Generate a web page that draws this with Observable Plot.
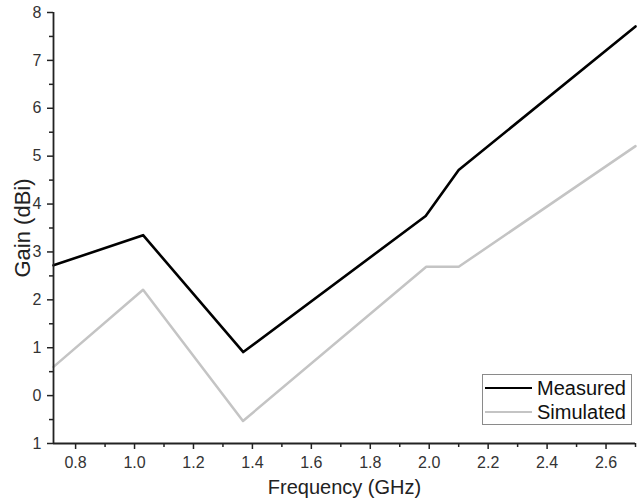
<!DOCTYPE html>
<html>
<head>
<meta charset="utf-8">
<script src="https://cdn.jsdelivr.net/npm/d3@7"></script>
<script src="https://cdn.jsdelivr.net/npm/@observablehq/plot@0.6"></script>
<style>
  html, body { margin: 0; padding: 0; background: #fff; }
  #wrap { position: relative; width: 642px; height: 499px; font-family: "Liberation Sans", Arial, sans-serif; }
  #legend { position: absolute; left: 482px; top: 374px; width: 150px; height: 51px; border: 1px solid #8a8a8a; background: #fff; box-sizing: border-box; }
  .row { position: absolute; left: 0; height: 24px; display: flex; align-items: center; font-size: 20px; color: #111; }
  .swatch { width: 47px; height: 0; margin-left: 2px; margin-right: 5px; }
</style>
</head>
<body>
<div id="wrap"></div>
<script>
const freqMeasured = [0.725, 1.029, 1.369, 1.988, 2.10, 2.70];
const gainMeasured = [2.72, 3.35, 0.91, 3.75, 4.71, 7.71];
const freqSimulated = [0.725, 1.029, 1.368, 1.99, 2.10, 2.70];
const gainSimulated = [0.60, 2.21, -0.53, 2.69, 2.69, 5.21];
const seriesNames = ["Measured", "Simulated"];
const seriesColors = ["#000000", "#c4c4c4"];
const xDomain = [0.725, 2.70];
const yDomain = [-1, 8];
const xMajorTicks = [0.8, 1.0, 1.2, 1.4, 1.6, 1.8, 2.0, 2.2, 2.4, 2.6];
const xMinorTicks = [0.9, 1.1, 1.3, 1.5, 1.7, 1.9, 2.1, 2.3, 2.5, 2.7];
const yMajorTicks = [-1, 0, 1, 2, 3, 4, 5, 6, 7, 8];
const yMinorTicks = [-0.5, 0.5, 1.5, 2.5, 3.5, 4.5, 5.5, 6.5, 7.5];

const measured = freqMeasured.map((f, i) => ({f, g: gainMeasured[i]}));
const simulated = freqSimulated.map((f, i) => ({f, g: gainSimulated[i]}));

const axisColor = "#222";
const chart = Plot.plot({
  width: 642,
  height: 499,
  marginLeft: 53,
  marginRight: 7,
  marginTop: 12,
  marginBottom: 56,
  style: { fontFamily: "'Liberation Sans', Arial, sans-serif", fontSize: "16px", color: "#333", background: "#fff" },
  x: { domain: xDomain },
  y: { domain: yDomain },
  marks: [
    Plot.line(simulated, {x: "f", y: "g", stroke: seriesColors[1], strokeWidth: 2.5}),
    Plot.line(measured, {x: "f", y: "g", stroke: seriesColors[0], strokeWidth: 2.6}),
    Plot.axisX({ticks: xMajorTicks, tickSize: 6, tickPadding: 7, fontSize: 16, tickFormat: d3.format(".1f"), stroke: axisColor, strokeWidth: 1.5, fill: "#333", label: null}),
    Plot.axisX({ticks: xMinorTicks, tickSize: 4, tickFormat: () => "", stroke: axisColor, strokeWidth: 1.5, label: null}),
    Plot.axisY({ticks: yMajorTicks, tickSize: 6, tickPadding: 6, fontSize: 16, tickFormat: d => String(Math.abs(d)), stroke: axisColor, strokeWidth: 1.5, fill: "#333", label: null}),
    Plot.axisY({ticks: yMinorTicks, tickSize: 4, tickFormat: () => "", stroke: axisColor, strokeWidth: 1.5, label: null}),
    Plot.ruleX([xDomain[0]], {stroke: axisColor, strokeWidth: 1.8}),
    Plot.ruleY([yDomain[0]], {stroke: axisColor, strokeWidth: 1.8}),
    Plot.text(["Frequency (GHz)"], {frameAnchor: "bottom", dy: 50, fontSize: 20, fill: "#222"}),
    Plot.text(["Gain (dBi)"], {frameAnchor: "left", textAnchor: "middle", lineAnchor: "middle", dx: -31, rotate: -90, fontSize: 22, fill: "#222"})
  ]
});

const wrap = document.getElementById("wrap");
wrap.appendChild(chart);
const legend = document.createElement("div");
legend.id = "legend";
seriesNames.forEach((name, i) => {
  const row = document.createElement("div");
  row.className = "row";
  row.style.top = (1 + i * 24) + "px";
  const sw = document.createElement("span");
  sw.className = "swatch";
  sw.style.borderTop = "2.5px solid " + seriesColors[i];
  const lab = document.createElement("span");
  lab.textContent = name;
  row.appendChild(sw);
  row.appendChild(lab);
  legend.appendChild(row);
});
wrap.appendChild(legend);
</script>
</body>
</html>
